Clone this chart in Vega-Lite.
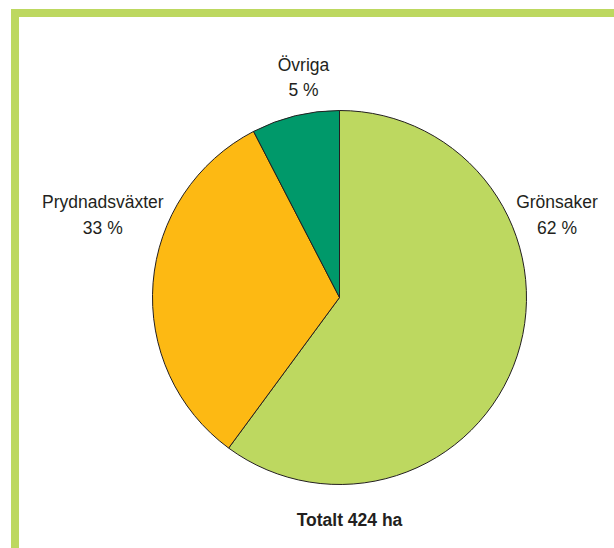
{
  "$schema": "https://vega.github.io/schema/vega-lite/v6.json",
  "width": 649,
  "height": 569,
  "autosize": {"type": "none"},
  "padding": {"left": 15, "top": 13, "right": -50, "bottom": -34},
  "background": "white",
  "view": {"stroke": "#BDD860", "strokeWidth": 8, "fill": "white"},
  "data": {
    "values": [
      {"kategori": "Grönsaker", "andel": 60.1, "etikett": "Grönsaker\n62 %", "ordning": 1},
      {"kategori": "Prydnadsväxter", "andel": 32.3, "etikett": "Prydnadsväxter\n33 %", "ordning": 2},
      {"kategori": "Övriga", "andel": 7.6, "etikett": "Övriga\n5 %", "ordning": 3}
    ]
  },
  "layer": [
    {
      "mark": {"type": "arc", "outerRadius": 187, "stroke": "#231F20", "strokeWidth": 1},
      "encoding": {
        "theta": {"field": "andel", "type": "quantitative", "stack": true},
        "color": {
          "field": "kategori",
          "type": "nominal",
          "scale": {"domain": ["Grönsaker", "Prydnadsväxter", "Övriga"], "range": ["#BDD860", "#FDB913", "#00996A"]},
          "legend": null
        },
        "order": {"field": "ordning", "type": "quantitative"}
      }
    },
    {
      "transform": [{"filter": "datum.kategori === 'Övriga'"}],
      "mark": {"type": "text", "dx": -36, "dy": -226.6, "lineBreak": "\n", "lineHeight": 25.5, "baseline": "alphabetic", "align": "center", "font": "Liberation Sans", "fontSize": 17.5, "fill": "#231F20"},
      "encoding": {"text": {"field": "etikett"}}
    },
    {
      "transform": [{"filter": "datum.kategori === 'Prydnadsväxter'"}],
      "mark": {"type": "text", "dx": -236.7, "dy": -89.8, "lineBreak": "\n", "lineHeight": 26.5, "baseline": "alphabetic", "align": "center", "font": "Liberation Sans", "fontSize": 17.5, "fill": "#231F20"},
      "encoding": {"text": {"field": "etikett"}}
    },
    {
      "transform": [{"filter": "datum.kategori === 'Grönsaker'"}],
      "mark": {"type": "text", "dx": 217.5, "dy": -89.8, "lineBreak": "\n", "lineHeight": 26.5, "baseline": "alphabetic", "align": "center", "font": "Liberation Sans", "fontSize": 17.5, "fill": "#231F20"},
      "encoding": {"text": {"field": "etikett"}}
    },
    {
      "data": {"values": [{"total": "Totalt 424 ha"}]},
      "mark": {"type": "text", "dx": 10, "dy": 228.7, "baseline": "alphabetic", "align": "center", "font": "Liberation Sans", "fontSize": 17.5, "fontWeight": "bold", "fill": "#231F20"},
      "encoding": {"text": {"field": "total"}}
    }
  ]
}
